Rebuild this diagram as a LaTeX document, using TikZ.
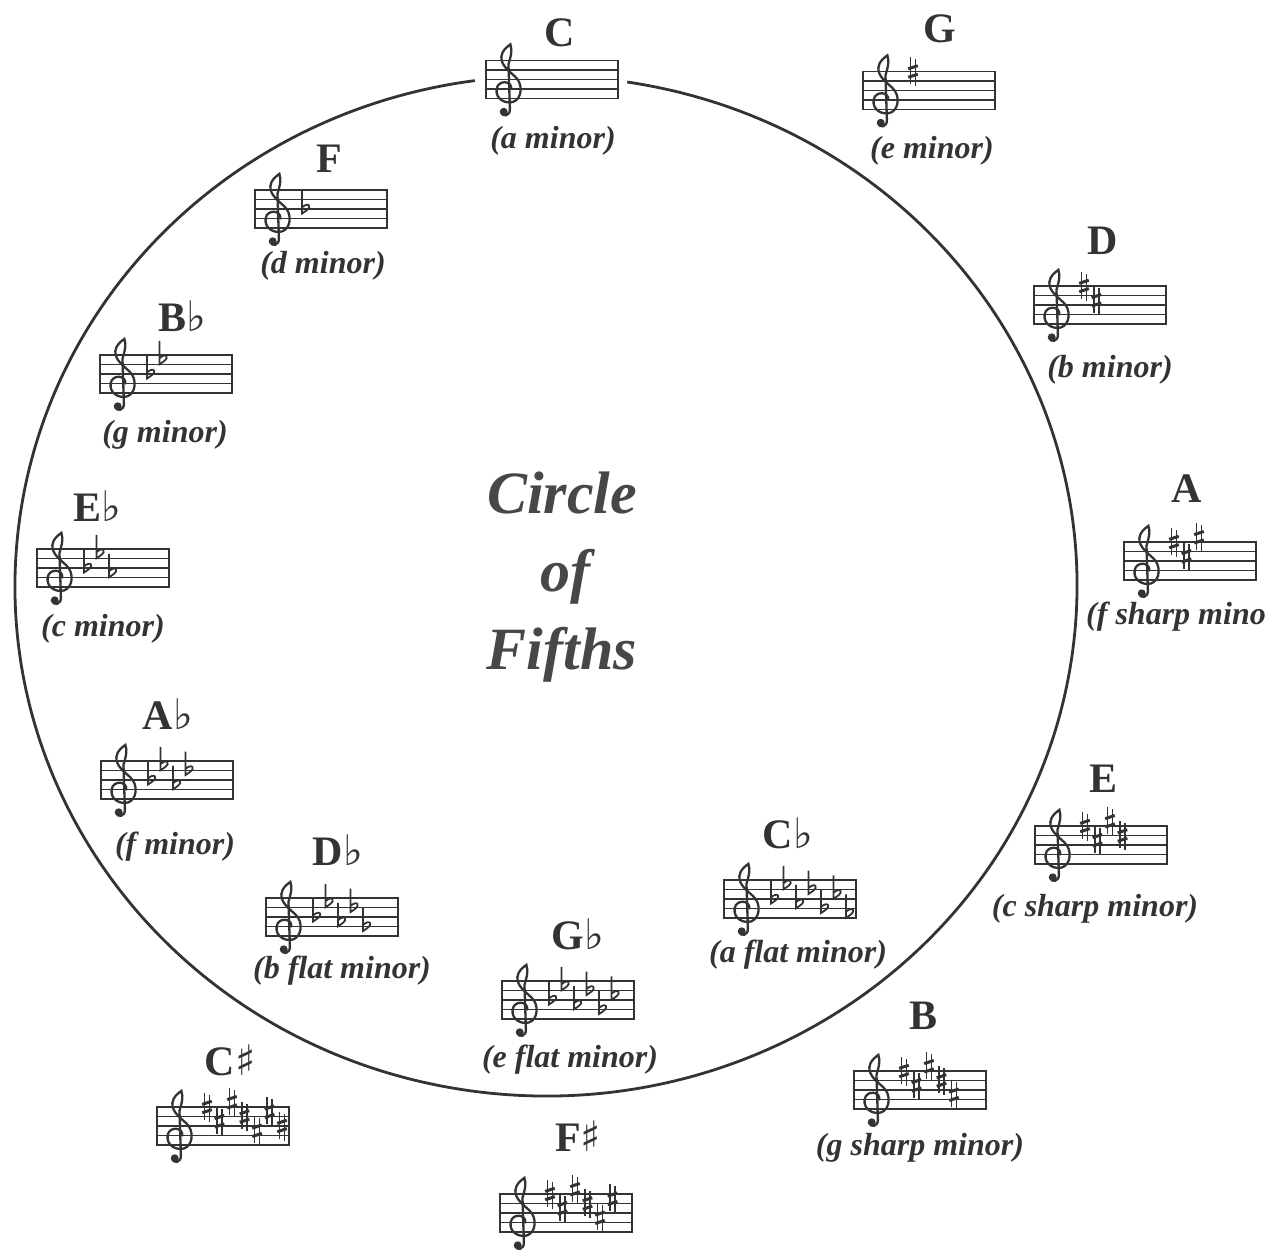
\documentclass[tikz,border=0pt]{standalone}
\usepackage{fontspec}
\setmainfont{Liberation Serif}
\newfontfamily\symfont{DejaVu Sans}
\usepackage{xcolor}
\usepackage{tikz}
\usetikzlibrary{positioning, calc}
\definecolor{ink}{HTML}{333333}
\newcommand{\flatsym}{{\symfont\mdseries\char"266D}}
\newcommand{\sharpsym}{{\symfont\mdseries\char"266F}}

\begin{document}
\begin{tikzpicture}[
    x=1pt, y=1pt,
    staff/.style={rectangle, draw=ink, line width=1.6pt, minimum width=132pt, minimum height=38pt, inner sep=0pt,
      path picture={\foreach \k in {1,2,3} \draw[ink, line width=1.6pt] ([yshift=\k*9.5pt]path picture bounding box.south west) -- ([yshift=\k*9.5pt]path picture bounding box.south east);}},
    keyname/.style={font=\bfseries\fontsize{42}{42}\selectfont, text=ink, inner sep=0pt, text depth=0pt},
    minor/.style={font=\bfseries\itshape\fontsize{32}{32}\selectfont, text=ink, inner sep=0pt, text height=21pt, text depth=0pt},
    bigtitle/.style={font=\bfseries\itshape\fontsize{60}{60}\selectfont, text=black!72, inner sep=0pt, anchor=base},
    pics/gclef/.style={code={
        \draw[ink, line width=2.3pt, line cap=round, x=9.5pt, y=9.5pt]
          (0.35,1.0) .. controls (0.45,1.9) and (-1.05,2.0) .. (-1.2,1.0)
          .. controls (-1.35,-0.1) and (-0.2,-0.6) .. (0.55,-0.35)
          .. controls (1.45,-0.05) and (1.65,1.5) .. (0.75,2.3)
          .. controls (0.1,2.9) and (-0.75,3.5) .. (-0.7,4.4)
          .. controls (-0.65,5.1) and (0.0,5.5) .. (0.25,5.7)
          .. controls (0.5,5.0) and (0.25,4.3) .. (0.05,3.6)
          -- (0.2,-1.1) .. controls (0.25,-1.85) and (-0.6,-2.0) .. (-0.65,-1.45);
        \fill[ink, x=9.5pt, y=9.5pt] (-0.45,-1.4) circle[radius=0.42];
    }},
    pics/sharpsign/.style={code={
        \draw[ink, line width=1.5pt] (-2.3,-12.5) -- (-2.3,14.5) (2.3,-14.5) -- (2.3,12.5);
        \draw[ink, line width=3pt] (-4.8,-5.8) -- (4.8,-2.6) (-4.8,2.6) -- (4.8,5.8);
    }},
    pics/flatsign/.style={code={
        \draw[ink, line width=1.8pt] (-3,19) -- (-3,-4.5)
          .. controls (1,-2) and (5.5,1) .. (4,3.5)
          .. controls (2.8,5.2) and (-0.5,4) .. (-3,1.5);
    }},
    pics/sharpkey/.style={code={
        \pic at (-44,-19) {gclef};
        \foreach \p [count=\i] in {8,5,9,6,3,7,4} {
          \ifnum\i>#1\relax\else \pic at ({-16+12.5*(\i-1)},{-19+4.75*\p}) {sharpsign};\fi
        }
    }},
    pics/flatkey/.style={code={
        \pic at (-44,-19) {gclef};
        \foreach \p [count=\i] in {4,7,3,6,2,5,1} {
          \ifnum\i>#1\relax\else \pic at ({-16+12.5*(\i-1)},{-19+4.75*\p}) {flatsign};\fi
        }
    }}
]
\useasboundingbox (0,0) rectangle (1274,-1258);

% The circle, open at the top behind C
\draw[ink, line width=2.8pt] (546,-586) ++(81.2:531 and 510) arc[start angle=81.2, end angle=-262.3, x radius=531, y radius=510];

% Title
\node[bigtitle] (circleword) at (562,-513) {Circle};
\node[bigtitle] (ofword) at ([xshift=3pt, yshift=-78pt]circleword.base) {of};
\node[bigtitle] (fifthsword) at ([xshift=-3pt, yshift=-78pt]ofword.base) {Fifths};

% Staves
\node[staff] (keyC) at (552,-79.5) {};
\node[staff] (keyG) at (929,-90.5) {};
\node[staff] (keyD) at (1100,-305) {};
\node[staff] (keyA) at (1190,-561) {};
\node[staff] (keyE) at (1101,-845) {};
\node[staff] (keyB) at (920,-1090) {};
\node[staff] (keyFs) at (566,-1213) {};
\node[staff] (keyCs) at (223,-1126) {};
\node[staff] (keyGb) at (568,-1000) {};
\node[staff] (keyCb) at (790,-899) {};
\node[staff] (keyDb) at (332,-917) {};
\node[staff] (keyAb) at (167,-780) {};
\node[staff] (keyEb) at (103,-568) {};
\node[staff] (keyBb) at (166,-374) {};
\node[staff] (keyF) at (321,-209) {};

% Key signatures
\pic at (keyC) {sharpkey=0};
\pic at (keyG) {sharpkey=1};
\pic at (keyD) {sharpkey=2};
\pic at (keyA) {sharpkey=3};
\pic at (keyE) {sharpkey=4};
\pic at (keyB) {sharpkey=5};
\pic at (keyFs) {sharpkey=6};
\pic at (keyCs) {sharpkey=7};
\pic at (keyGb) {flatkey=6};
\pic at (keyCb) {flatkey=7};
\pic at (keyDb) {flatkey=5};
\pic at (keyAb) {flatkey=4};
\pic at (keyEb) {flatkey=3};
\pic at (keyBb) {flatkey=2};
\pic at (keyF) {flatkey=1};

% Major key names
\node[keyname, above=13.5pt of keyC, xshift=8pt] (nameC) {C};
\node[keyname, above=28.5pt of keyG, xshift=11pt] (nameG) {G};
\node[keyname, above=31pt of keyD, xshift=3pt] (nameD) {D};
\node[keyname, above=39pt of keyA, xshift=-3pt] (nameA) {A};
\node[keyname, above=33pt of keyE, xshift=2pt] (nameE) {E};
\node[keyname, above=41pt of keyB, xshift=3pt] (nameB) {B};
\node[keyname, above=42pt of keyFs, xshift=12pt] (nameFs) {F\sharpsym};
\node[keyname, above=31pt of keyCs, xshift=7pt] (nameCs) {C\sharpsym};
\node[keyname, above=31pt of keyGb, xshift=10pt] (nameGb) {G\flatsym};
\node[keyname, above=31pt of keyCb, xshift=-2pt] (nameCb) {C\flatsym};
\node[keyname, above=32pt of keyDb, xshift=6pt] (nameDb) {D\flatsym};
\node[keyname, above=31pt of keyAb, xshift=1pt] (nameAb) {A\flatsym};
\node[keyname, above=26.5pt of keyEb, xshift=-6pt] (nameEb) {E\flatsym};
\node[keyname, above=23pt of keyBb, xshift=16pt] (nameBb) {B\flatsym};
\node[keyname, above=17pt of keyF, xshift=8pt] (nameF) {F};

% Relative minors
\node[minor, below=27.5pt of keyC, xshift=1pt] (minC) {(a minor)};
\node[minor, below=26.5pt of keyG, xshift=3pt] (minG) {(e minor)};
\node[minor, below=31pt of keyD, xshift=10pt] (minD) {(b minor)};
\node[minor, below=22pt of keyA, xshift=-14pt] (minA) {(f sharp mino};
\node[minor, below=30pt of keyE, xshift=-6pt] (minE) {(c sharp minor)};
\node[minor, below=24.5pt of keyB] (minB) {(g sharp minor)};
\node[minor, below=26pt of keyGb, xshift=2pt] (minGb) {(e flat minor)};
\node[minor, below=22pt of keyCb, xshift=8pt] (minCb) {(a flat minor)};
\node[minor, below=20pt of keyDb, xshift=10pt] (minDb) {(b flat minor)};
\node[minor, below=33pt of keyAb, xshift=8pt] (minAb) {(f minor)};
\node[minor, below=27.5pt of keyEb] (minEb) {(c minor)};
\node[minor, below=27pt of keyBb, xshift=-1pt] (minBb) {(g minor)};
\node[minor, below=23pt of keyF, xshift=2pt] (minF) {(d minor)};

\end{tikzpicture}
\end{document}
